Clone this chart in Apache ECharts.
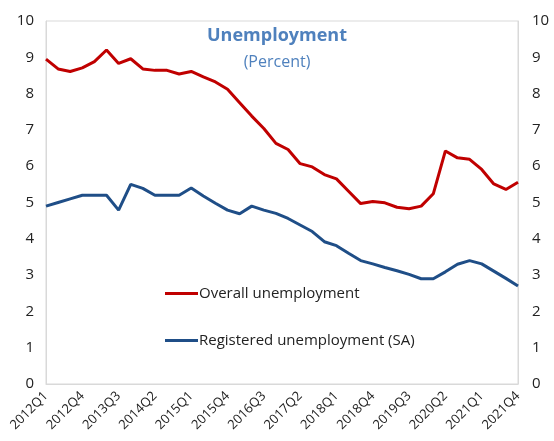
<!DOCTYPE html>
<html><head><meta charset="utf-8">
<script src="https://cdn.jsdelivr.net/npm/echarts@6/dist/echarts.min.js"></script>
<style>html,body{margin:0;padding:0;background:#fff}#c{width:554px;height:441px}</style>
</head><body><div id="c"></div>
<script>
const quarters = [];
for (let y = 2012; y <= 2021; y++) for (let q = 1; q <= 4; q++) quarters.push(y + 'Q' + q);
const overall = [8.95,8.68,8.61,8.71,8.88,9.2,8.83,8.96,8.68,8.64,8.64,8.54,8.61,8.46,8.32,8.12,7.75,7.38,7.04,6.63,6.46,6.07,5.98,5.77,5.65,5.31,4.97,5.03,4.99,4.87,4.83,4.9,5.24,6.42,6.23,6.19,5.91,5.51,5.36,5.56];
const registered = [4.9,5.0,5.1,5.2,5.2,5.2,4.79,5.5,5.39,5.2,5.2,5.2,5.4,5.18,4.98,4.79,4.69,4.9,4.79,4.7,4.56,4.38,4.2,3.92,3.81,3.6,3.4,3.31,3.21,3.12,3.02,2.9,2.9,3.09,3.3,3.4,3.31,3.11,2.91,2.7];
const FONT = '"Open Sans", "Noto Sans", sans-serif';
const chart = echarts.init(document.getElementById('c'));
const yAxisBase = {
  type: 'value', min: 0, max: 10, interval: 1,
  axisLine: {show: true, lineStyle: {color: '#d9d9d9'}},
  axisTick: {show: false}, splitLine: {show: false},
  axisLabel: {color: '#222', fontSize: 15, fontFamily: FONT}
};
chart.setOption({
  animation: false,
  title: {
    text: 'Unemployment', subtext: '(Percent)', left: 'center', top: 22, itemGap: 9,
    textStyle: {color: '#4f81bd', fontSize: 18, fontWeight: 'bold', fontFamily: FONT},
    subtextStyle: {color: '#4f81bd', fontSize: 16, fontFamily: FONT}
  },
  legend: {
    orient: 'vertical', left: 160, top: 281, itemGap: 32, itemWidth: 33, itemHeight: 3,
    icon: 'rect',
    textStyle: {color: '#222', fontSize: 15, fontFamily: FONT, padding: [0,0,0,-4]},
    data: ['Overall unemployment', 'Registered unemployment (SA)']
  },
  grid: {left: 46, right: 36, top: 21, bottom: 57, show: true, borderColor: '#d9d9d9', borderWidth: 1},
  xAxis: {
    type: 'category', data: quarters, boundaryGap: false,
    axisLine: {lineStyle: {color: '#d9d9d9'}}, axisTick: {show: false},
    axisLabel: {interval: 2, rotate: 45, color: '#222', fontSize: 13, fontFamily: FONT, margin: 10}
  },
  yAxis: [
    Object.assign({}, yAxisBase, {position: 'left', axisLabel: Object.assign({}, yAxisBase.axisLabel, {margin: 12})}),
    Object.assign({}, yAxisBase, {position: 'right', axisLabel: Object.assign({}, yAxisBase.axisLabel, {margin: 14})})
  ],
  series: [
    {name: 'Overall unemployment', type: 'line', data: overall, symbol: 'none', color: '#c00000', lineStyle: {width: 3}},
    {name: 'Registered unemployment (SA)', type: 'line', data: registered, symbol: 'none', color: '#1f4e87', lineStyle: {width: 3}}
  ]
});
</script></body></html>
